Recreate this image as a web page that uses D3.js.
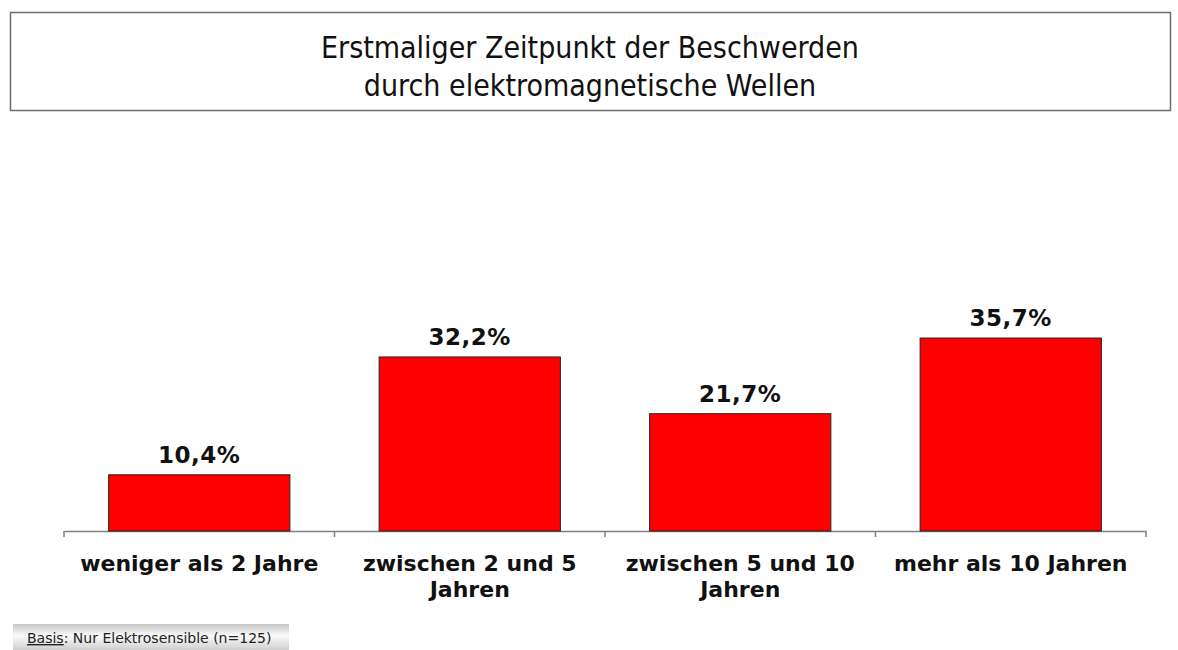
<!DOCTYPE html>
<html>
<head>
<meta charset="utf-8">
<script src="https://cdn.jsdelivr.net/npm/d3@7"></script>
<style>
  body{margin:0;background:#fff;}
  svg text{font-family:"DejaVu Sans",Verdana,sans-serif;}
</style>
</head>
<body>
<div id="chart"></div>
<script>
// data
let categories=["weniger als 2 Jahre","zwischen 2 und 5 Jahren","zwischen 5 und 10 Jahren","mehr als 10 Jahren"]
let labelLines=[["weniger als 2 Jahre"],["zwischen 2 und 5","Jahren"],["zwischen 5 und 10","Jahren"],["mehr als 10 Jahren"]]
let values=[10.4,32.2,21.7,35.7]
let titleLines=["Erstmaliger Zeitpunkt der Beschwerden","durch elektromagnetische Wellen"]

let width=1178, height=650
let svg=d3.select("#chart").append("svg").attr("width",width).attr("height",height)

// title box
svg.append("rect").attr("x",10.5).attr("y",12.5).attr("width",1160).attr("height",98)
  .attr("fill","#fff").attr("stroke","#6e6e6e").attr("stroke-width",1.5)
svg.append("g").selectAll("text").data(titleLines).enter().append("text")
  .attr("x",590).attr("y",(d,i)=>58+i*38).attr("text-anchor","middle")
  .style("font-family","'DejaVu Sans Condensed','DejaVu Sans',sans-serif")
  .style("font-size","30px").attr("fill","#111").text(d=>d)

// scales
let baseY=531
let xScale=d3.scaleBand().domain(categories).range([64,1146]).paddingInner(0.33).paddingOuter(0.165)
let yScale=d3.scaleLinear().domain([0,40]).range([baseY,baseY-216.2])

// axis
let axisX=d3.axisBottom(xScale).tickSize(0).tickFormat("")
let gx=svg.append("g").attr("transform","translate(0,"+baseY+")").call(axisX)
gx.select(".domain").attr("stroke","#808080").attr("stroke-width",1.5)
let tickPos=d3.range(categories.length+1).map(i=>64+i*(1146-64)/categories.length)
gx.selectAll(".sep").data(tickPos).enter().append("line").attr("class","sep")
  .attr("x1",d=>d).attr("x2",d=>d).attr("y1",0).attr("y2",6).attr("stroke","#808080").attr("stroke-width",1.5)

// bars
svg.append("g").selectAll("rect").data(values).enter().append("rect")
  .attr("x",(d,i)=>xScale(categories[i])).attr("y",d=>yScale(d))
  .attr("width",xScale.bandwidth()).attr("height",d=>baseY-yScale(d))
  .attr("fill","#ff0000").attr("stroke","#222").attr("stroke-width",1)

// value labels
svg.append("g").selectAll("text").data(values).enter().append("text")
  .attr("x",(d,i)=>xScale(categories[i])+xScale.bandwidth()/2).attr("y",d=>yScale(d)-12)
  .attr("text-anchor","middle").style("font-weight","bold").style("font-size","23px")
  .style("letter-spacing","0.5px").attr("fill","#111")
  .text(d=>d.toFixed(1).replace(".",",")+"%")

// category labels
let cat=svg.append("g").selectAll("text").data(labelLines).enter().append("text")
  .attr("text-anchor","middle").style("font-weight","bold").style("font-size","22px").attr("fill","#111")
cat.each(function(lines,i){
  let t=d3.select(this)
  lines.forEach((l,j)=>{
    t.append("tspan").attr("x",xScale(categories[i])+xScale.bandwidth()/2).attr("y",571+j*26).text(l)
  })
})

// footer
let grad=svg.append("defs").append("linearGradient").attr("id","foot").attr("x1",0).attr("x2",0).attr("y1",0).attr("y2",1)
grad.append("stop").attr("offset","0%").attr("stop-color","#c8c8c8")
grad.append("stop").attr("offset","45%").attr("stop-color","#fafafa")
grad.append("stop").attr("offset","100%").attr("stop-color","#d0d0d0")
svg.append("rect").attr("x",13).attr("y",624).attr("width",276).attr("height",26).attr("fill","url(#foot)")
let foot=svg.append("text").attr("x",27).attr("y",643).style("font-size","14px").attr("fill","#222")
foot.append("tspan").style("text-decoration","underline").text("Basis")
foot.append("tspan").text(": Nur Elektrosensible (n=125)")
</script>
</body>
</html>
